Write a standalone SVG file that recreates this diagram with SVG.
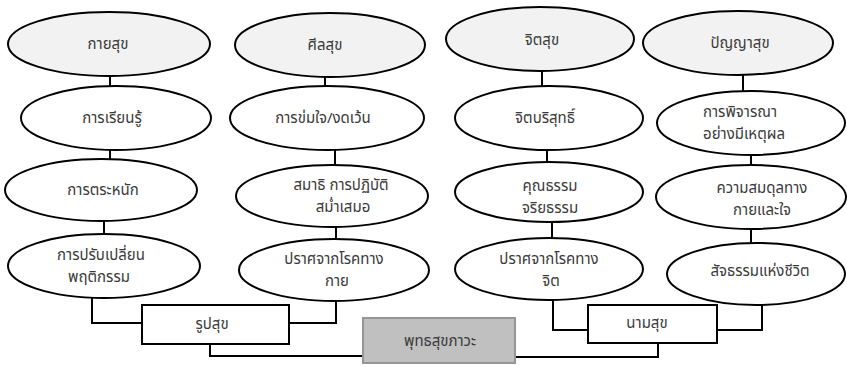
<svg xmlns="http://www.w3.org/2000/svg" width="847" height="367" viewBox="0 0 847 367">
<style>
.e{fill:#fff;stroke:#000;stroke-width:2}
.h{fill:#f2f2f2}
.r{fill:#fff;stroke:#000;stroke-width:2}
.g{fill:#c0c0c0;stroke:#969696;stroke-width:2}
.c{fill:none;stroke:#000;stroke-width:2}
text{font-family:"Noto Sans Thai","Noto Sans","DejaVu Sans",sans-serif;font-size:15px;fill:#3a3a3a;text-anchor:middle;dominant-baseline:central}
</style>
<rect width="847" height="367" fill="#fff"/>
<g id="connectors">
<path class="c" d="M110,70V90M110,145V163M104,216V238"/>
<path class="c" d="M325,70V90M335,145V170M336,222V244"/>
<path class="c" d="M542,66V92M547,145V166M552,217V243"/>
<path class="c" d="M743,70V96M751,150V170M751,224V247"/>
<path class="c" d="M92,292V323H142M289,323H336V296M210,344V356H363"/>
<path class="c" d="M553,296V330H588M717,330H762V300M658,343V357H515"/>
</g>
<g id="n-kayasuk"><ellipse class="e h" cx="109" cy="44" rx="101" ry="32"/><text x="108" y="44">กายสุข</text></g>
<g id="n-learn"><ellipse class="e" cx="116" cy="118" rx="95" ry="32"/><text x="112" y="118">การเรียนรู้</text></g>
<g id="n-aware"><ellipse class="e" cx="101" cy="190" rx="96" ry="31"/><text x="103" y="190">การตระหนัก</text></g>
<g id="n-behav"><ellipse class="e" cx="104" cy="266" rx="96" ry="32"/><text x="101" y="255">การปรับเปลี่ยน</text><text x="99" y="277">พฤติกรรม</text></g>
<g id="n-silasuk"><ellipse class="e h" cx="330" cy="45" rx="95" ry="32"/><text x="325" y="45">ศีลสุข</text></g>
<g id="n-restrain"><ellipse class="e" cx="327" cy="118" rx="97" ry="32"/><text x="323" y="118">การข่มใจ/งดเว้น</text></g>
<g id="n-samadhi"><ellipse class="e" cx="332" cy="196" rx="96" ry="31"/><text x="341" y="185">สมาธิ การปฏิบัติ</text><text x="343" y="207">สม่ำเสมอ</text></g>
<g id="n-body"><ellipse class="e" cx="334" cy="270" rx="95" ry="31"/><text x="334" y="259">ปราศจากโรคทาง</text><text x="337" y="281">กาย</text></g>
<g id="n-chitsuk"><ellipse class="e h" cx="540" cy="39" rx="94" ry="32"/><text x="542" y="40">จิตสุข</text></g>
<g id="n-pure"><ellipse class="e" cx="549" cy="118" rx="94" ry="32"/><text x="545" y="118">จิตบริสุทธิ์</text></g>
<g id="n-moral"><ellipse class="e" cx="549" cy="192" rx="94" ry="30"/><text x="550" y="186">คุณธรรม</text><text x="550" y="208">จริยธรรม</text></g>
<g id="n-mind"><ellipse class="e" cx="549" cy="269" rx="94" ry="31"/><text x="549" y="259">ปราศจากโรคทาง</text><text x="551" y="281">จิต</text></g>
<g id="n-panyasuk"><ellipse class="e h" cx="738" cy="43" rx="95" ry="32"/><text x="740" y="43">ปัญญาสุข</text></g>
<g id="n-reason"><ellipse class="e" cx="751" cy="123" rx="94" ry="32"/><text x="740" y="112">การพิจารณา</text><text x="744" y="134">อย่างมีเหตุผล</text></g>
<g id="n-balance"><ellipse class="e" cx="751" cy="197" rx="95" ry="32"/><text x="762" y="188">ความสมดุลทาง</text><text x="762" y="210">กายและใจ</text></g>
<g id="n-truth"><ellipse class="e" cx="756" cy="274" rx="89" ry="31"/><text x="760" y="271">สัจธรรมแห่งชีวิต</text></g>
<g id="n-rupasuk"><rect class="r" x="142" y="305" width="147" height="39"/><text x="212" y="324">รูปสุข</text></g>
<g id="n-namasuk"><rect class="r" x="588" y="305" width="129" height="38"/><text x="647" y="323">นามสุข</text></g>
<g id="n-buddha"><rect class="g" x="363" y="318" width="152" height="45"/><text x="440" y="341">พุทธสุขภาวะ</text></g>
</svg>
